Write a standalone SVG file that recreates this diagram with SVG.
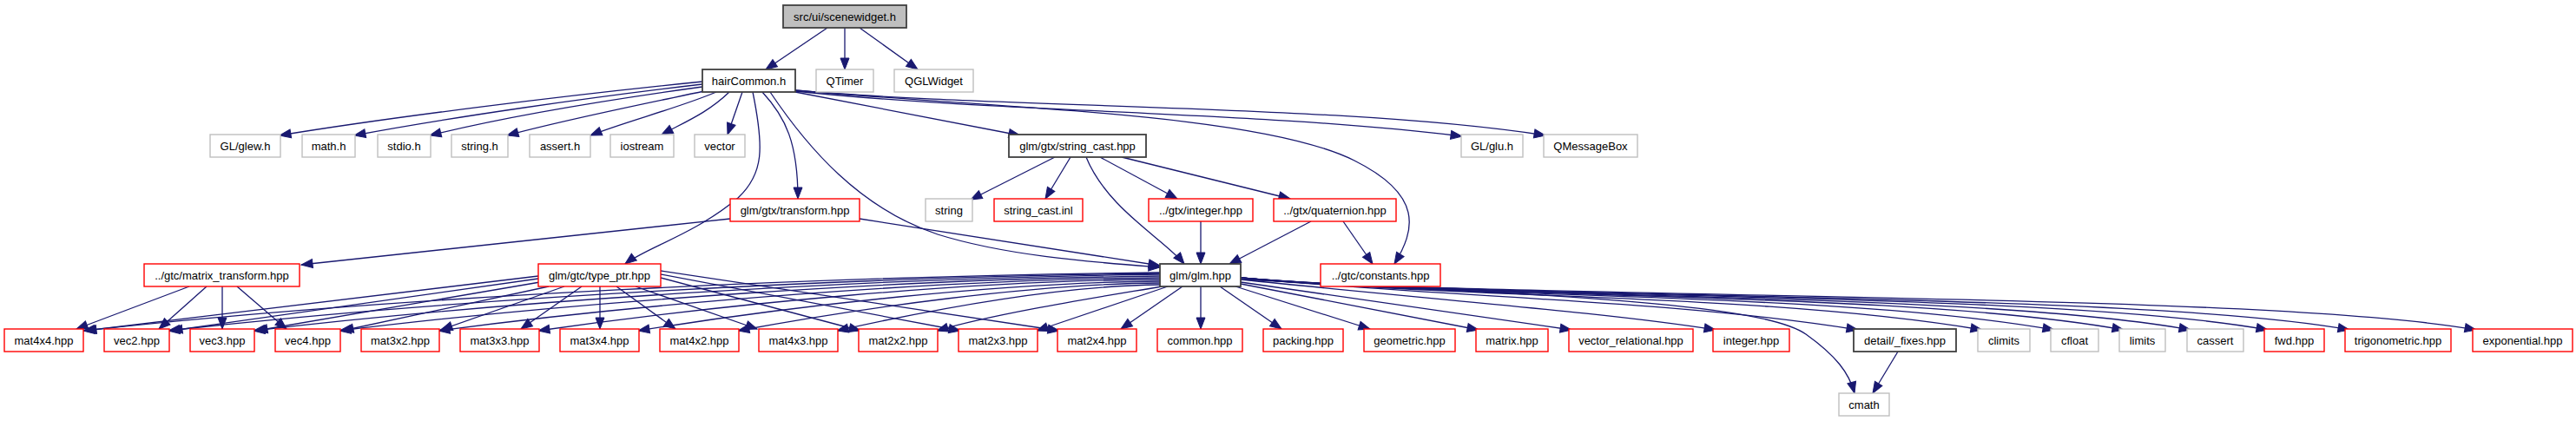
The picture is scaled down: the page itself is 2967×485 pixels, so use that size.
<svg xmlns="http://www.w3.org/2000/svg" width="2967" height="485" viewBox="0 0 2967 485">
<defs>
<style>
.node rect{fill:#ffffff;stroke-width:1.4}
.node text{font-family:"Liberation Sans",Arial,sans-serif;font-size:13px;fill:#000;text-anchor:middle}
.k rect{stroke:#404040;stroke-width:1.8}
.r rect{stroke:#ff0000}
.g rect{stroke:#bfbfbf}
.root rect{fill:#bfbfbf;stroke:#404040;stroke-width:1.8}
#edges path{fill:none;stroke:#191970;stroke-width:1.3;marker-end:url(#ah)}
</style>
<marker id="ah" markerWidth="14" markerHeight="12" refX="13" refY="5" orient="auto" markerUnits="userSpaceOnUse" overflow="visible">
<path d="M0,0 L13,5 L0,10 z" fill="#191970" stroke="#191970" stroke-width="1"/>
</marker>
</defs>
<rect x="0" y="0" width="2967" height="485" fill="#ffffff"/>
<g id="edges">
<path d="M953,32 L882,80"/>
<path d="M973,32 L973,80"/>
<path d="M990,32 L1057,80"/>
<path d="M809,94 C650,110 450,135 322,156"/>
<path d="M809,97 C680,112 520,135 408,156"/>
<path d="M809,100 C700,115 580,135 495,156"/>
<path d="M811,105 C740,120 650,138 584,156"/>
<path d="M825,106 C780,125 720,140 680,156"/>
<path d="M840,106 C815,130 790,140 762,155"/>
<path d="M855,106 L838,155"/>
<path d="M867,106 C880,170 880,200 850,228 C800,270 745,285 720,304"/>
<path d="M878,106 C905,135 919,165 919,229"/>
<path d="M887,106 C930,170 990,240 1080,270 C1160,295 1260,302 1336,308"/>
<path d="M916,104 C1150,125 1450,130 1560,185 C1640,225 1630,265 1606,304"/>
<path d="M916,106 L1175,156"/>
<path d="M916,105 C1150,130 1450,128 1684,157"/>
<path d="M916,104 C1150,125 1550,120 1780,156"/>
<path d="M1215,181 L1118,230"/>
<path d="M1233,181 L1204,229"/>
<path d="M1251,181 C1275,240 1340,275 1364,304"/>
<path d="M1267,181 L1356,229"/>
<path d="M1292,181 L1486,229"/>
<path d="M1383,255 L1383,304"/>
<path d="M1510,255 L1416,304"/>
<path d="M1547,255 L1581,304"/>
<path d="M841,252 L347,305"/>
<path d="M990,252 L1336,306"/>
<path d="M218,330 L88,379"/>
<path d="M238,330 L183,379"/>
<path d="M256,330 L256,379"/>
<path d="M273,330 L330,379"/>
<path d="M620,318 L98,381"/>
<path d="M620,321 L197,381"/>
<path d="M622,325 L295,381"/>
<path d="M632,330 L394,381"/>
<path d="M650,330 L508,380"/>
<path d="M670,330 L600,379"/>
<path d="M691,330 L691,379"/>
<path d="M710,330 L778,379"/>
<path d="M732,330 L872,379"/>
<path d="M761,320 L991,381"/>
<path d="M761,316 L1106,381"/>
<path d="M761,312 L1220,381"/>
<path d="M1336,314 C964,318 468,340 96,381"/>
<path d="M1336,315 C993,319 537,342 194,381"/>
<path d="M1336,316 C1023,320 605,344 292,381"/>
<path d="M1336,318 C1052,321 675,346 391,381"/>
<path d="M1336,320 C1087,322 754,348 505,381"/>
<path d="M1336,322 C1121,323 835,350 620,381"/>
<path d="M1336,324 C1156,325 915,352 735,381"/>
<path d="M1336,326 C1190,327 996,354 850,381"/>
<path d="M1336,328 C1224,329 1076,356 964,381"/>
<path d="M1338,330 C1280,340 1150,360 1079,381"/>
<path d="M1345,330 L1194,381"/>
<path d="M1362,330 L1291,379"/>
<path d="M1383,330 L1383,379"/>
<path d="M1405,330 L1476,379"/>
<path d="M1423,330 L1578,379"/>
<path d="M1429,327 L1703,380"/>
<path d="M1429,325 L1810,380"/>
<path d="M1429,322 C1650,345 1850,360 1976,380"/>
<path d="M1429,320 C1700,345 1920,345 2140,380"/>
<path d="M1429,320 C1700,345 2033,338 2283,380"/>
<path d="M1429,320 C1700,345 2116,336 2366,380"/>
<path d="M1429,320 C1700,345 2196,335 2446,380"/>
<path d="M1429,320 C1700,345 2273,335 2523,380"/>
<path d="M1429,320 C1700,345 2362,335 2612,380"/>
<path d="M1429,320 C1700,345 2456,335 2706,380"/>
<path d="M1429,320 C1700,345 2602,335 2852,380"/>
<path d="M1429,322 C1800,340 2030,350 2080,385 C2115,410 2130,430 2136,453"/>
<path d="M2186,405 L2157,453"/>
</g>
<g id="n_scenewidget" class="node root"><rect x="902" y="6" width="142" height="26"/><text x="973" y="23.5">src/ui/scenewidget.h</text></g>
<g id="n_hairCommon" class="node k"><rect x="809" y="80" width="107" height="26"/><text x="862.5" y="97.5">hairCommon.h</text></g>
<g id="n_QTimer" class="node g"><rect x="940" y="80" width="66" height="26"/><text x="973" y="97.5">QTimer</text></g>
<g id="n_QGLWidget" class="node g"><rect x="1030" y="80" width="91" height="26"/><text x="1075.5" y="97.5">QGLWidget</text></g>
<g id="n_glew" class="node g"><rect x="242" y="155" width="81" height="26"/><text x="282.5" y="172.5">GL/glew.h</text></g>
<g id="n_math" class="node g"><rect x="348" y="155" width="61" height="26"/><text x="378.5" y="172.5">math.h</text></g>
<g id="n_stdio" class="node g"><rect x="435" y="155" width="61" height="26"/><text x="465.5" y="172.5">stdio.h</text></g>
<g id="n_stringh" class="node g"><rect x="520" y="155" width="65" height="26"/><text x="552.5" y="172.5">string.h</text></g>
<g id="n_assert" class="node g"><rect x="610" y="155" width="70" height="26"/><text x="645" y="172.5">assert.h</text></g>
<g id="n_iostream" class="node g"><rect x="703" y="155" width="73" height="26"/><text x="739.5" y="172.5">iostream</text></g>
<g id="n_vector" class="node g"><rect x="800" y="155" width="58" height="26"/><text x="829" y="172.5">vector</text></g>
<g id="n_string_cast" class="node k"><rect x="1162" y="155" width="158" height="26"/><text x="1241" y="172.5">glm/gtx/string_cast.hpp</text></g>
<g id="n_glu" class="node g"><rect x="1683" y="155" width="71" height="26"/><text x="1718.5" y="172.5">GL/glu.h</text></g>
<g id="n_QMessageBox" class="node g"><rect x="1778" y="155" width="108" height="26"/><text x="1832" y="172.5">QMessageBox</text></g>
<g id="n_transform" class="node r"><rect x="841" y="229" width="149" height="26"/><text x="915.5" y="246.5">glm/gtx/transform.hpp</text></g>
<g id="n_string" class="node g"><rect x="1066" y="229" width="54" height="26"/><text x="1093" y="246.5">string</text></g>
<g id="n_string_cast_inl" class="node r"><rect x="1145" y="229" width="102" height="26"/><text x="1196" y="246.5">string_cast.inl</text></g>
<g id="n_gtx_integer" class="node r"><rect x="1323" y="229" width="120" height="26"/><text x="1383" y="246.5">../gtx/integer.hpp</text></g>
<g id="n_quaternion" class="node r"><rect x="1467" y="229" width="141" height="26"/><text x="1537.5" y="246.5">../gtx/quaternion.hpp</text></g>
<g id="n_matrix_transform" class="node r"><rect x="166" y="304" width="179" height="26"/><text x="255.5" y="321.5">../gtc/matrix_transform.hpp</text></g>
<g id="n_type_ptr" class="node r"><rect x="620" y="304" width="141" height="26"/><text x="690.5" y="321.5">glm/gtc/type_ptr.hpp</text></g>
<g id="n_glm" class="node k"><rect x="1336" y="304" width="93" height="26"/><text x="1382.5" y="321.5">glm/glm.hpp</text></g>
<g id="n_constants" class="node r"><rect x="1521" y="304" width="138" height="26"/><text x="1590" y="321.5">../gtc/constants.hpp</text></g>
<g id="n_mat4x4" class="node r"><rect x="5" y="379" width="91" height="26"/><text x="50.5" y="396.5">mat4x4.hpp</text></g>
<g id="n_vec2" class="node r"><rect x="120" y="379" width="75" height="26"/><text x="157.5" y="396.5">vec2.hpp</text></g>
<g id="n_vec3" class="node r"><rect x="219" y="379" width="74" height="26"/><text x="256" y="396.5">vec3.hpp</text></g>
<g id="n_vec4" class="node r"><rect x="317" y="379" width="75" height="26"/><text x="354.5" y="396.5">vec4.hpp</text></g>
<g id="n_mat3x2" class="node r"><rect x="416" y="379" width="90" height="26"/><text x="461" y="396.5">mat3x2.hpp</text></g>
<g id="n_mat3x3" class="node r"><rect x="530" y="379" width="91" height="26"/><text x="575.5" y="396.5">mat3x3.hpp</text></g>
<g id="n_mat3x4" class="node r"><rect x="645" y="379" width="91" height="26"/><text x="690.5" y="396.5">mat3x4.hpp</text></g>
<g id="n_mat4x2" class="node r"><rect x="760" y="379" width="91" height="26"/><text x="805.5" y="396.5">mat4x2.hpp</text></g>
<g id="n_mat4x3" class="node r"><rect x="874" y="379" width="91" height="26"/><text x="919.5" y="396.5">mat4x3.hpp</text></g>
<g id="n_mat2x2" class="node r"><rect x="989" y="379" width="91" height="26"/><text x="1034.5" y="396.5">mat2x2.hpp</text></g>
<g id="n_mat2x3" class="node r"><rect x="1104" y="379" width="91" height="26"/><text x="1149.5" y="396.5">mat2x3.hpp</text></g>
<g id="n_mat2x4" class="node r"><rect x="1218" y="379" width="91" height="26"/><text x="1263.5" y="396.5">mat2x4.hpp</text></g>
<g id="n_common" class="node r"><rect x="1333" y="379" width="98" height="26"/><text x="1382" y="396.5">common.hpp</text></g>
<g id="n_packing" class="node r"><rect x="1455" y="379" width="92" height="26"/><text x="1501" y="396.5">packing.hpp</text></g>
<g id="n_geometric" class="node r"><rect x="1571" y="379" width="105" height="26"/><text x="1623.5" y="396.5">geometric.hpp</text></g>
<g id="n_matrix" class="node r"><rect x="1700" y="379" width="83" height="26"/><text x="1741.5" y="396.5">matrix.hpp</text></g>
<g id="n_vector_relational" class="node r"><rect x="1807" y="379" width="143" height="26"/><text x="1878.5" y="396.5">vector_relational.hpp</text></g>
<g id="n_integer" class="node r"><rect x="1973" y="379" width="88" height="26"/><text x="2017" y="396.5">integer.hpp</text></g>
<g id="n_fixes" class="node k"><rect x="2135" y="379" width="118" height="26"/><text x="2194" y="396.5">detail/_fixes.hpp</text></g>
<g id="n_climits" class="node g"><rect x="2278" y="379" width="60" height="26"/><text x="2308" y="396.5">climits</text></g>
<g id="n_cfloat" class="node g"><rect x="2362" y="379" width="55" height="26"/><text x="2389.5" y="396.5">cfloat</text></g>
<g id="n_limits" class="node g"><rect x="2441" y="379" width="53" height="26"/><text x="2467.5" y="396.5">limits</text></g>
<g id="n_cassert" class="node g"><rect x="2519" y="379" width="65" height="26"/><text x="2551.5" y="396.5">cassert</text></g>
<g id="n_fwd" class="node r"><rect x="2608" y="379" width="69" height="26"/><text x="2642.5" y="396.5">fwd.hpp</text></g>
<g id="n_trigonometric" class="node r"><rect x="2701" y="379" width="122" height="26"/><text x="2762" y="396.5">trigonometric.hpp</text></g>
<g id="n_exponential" class="node r"><rect x="2848" y="379" width="115" height="26"/><text x="2905.5" y="396.5">exponential.hpp</text></g>
<g id="n_cmath" class="node g"><rect x="2118" y="453" width="58" height="26"/><text x="2147" y="470.5">cmath</text></g>
</svg>
